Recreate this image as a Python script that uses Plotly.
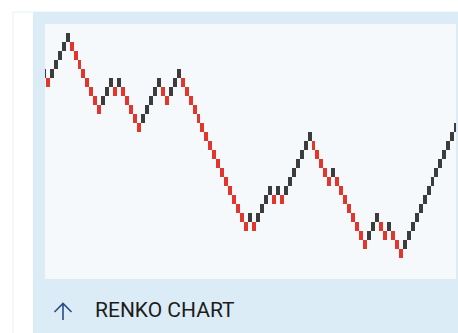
import plotly.graph_objects as go

# Renko bricks (close price of each brick), brick size 10
brick_size = 10
first_open = 1200
brick_close = [
    1210, 1190, 1210, 1220, 1230, 1240, 1250, 1230, 1220, 1210,
    1200, 1190, 1180, 1170, 1160, 1180, 1190, 1200, 1180, 1200,
    1180, 1170, 1160, 1150, 1140, 1160, 1170, 1180, 1190, 1200,
    1180, 1170, 1190, 1200, 1210, 1190, 1180, 1170, 1160, 1150,
    1140, 1130, 1120, 1110, 1100, 1090, 1080, 1070, 1060, 1050,
    1040, 1030, 1050, 1030, 1050, 1060, 1070, 1080, 1060, 1080,
    1060, 1080, 1090, 1100, 1110, 1120, 1130, 1140, 1120, 1110,
    1100, 1090, 1080, 1100, 1080, 1070, 1060, 1050, 1040, 1030,
    1020, 1010, 1030, 1040, 1050, 1030, 1020, 1040, 1020, 1010,
    1000, 1020, 1030, 1040, 1050, 1060, 1070, 1080, 1090, 1100,
    1110, 1120, 1130, 1140, 1150,
]
brick_index = list(range(-1, len(brick_close) - 1))
title_text = "RENKO CHART"

up_color = "#3c3c3c"
down_color = "#e2362c"

prev = [first_open] + brick_close[:-1]
is_up = [c > p for c, p in zip(brick_close, prev)]
lows = [c - brick_size if u else c for c, u in zip(brick_close, is_up)]
colors = [up_color if u else down_color for u in is_up]

fig = go.Figure(
    go.Bar(
        x=brick_index,
        y=[brick_size] * len(brick_close),
        base=lows,
        width=1.0,
        marker=dict(color=colors, line=dict(width=0)),
        hoverinfo="skip",
    )
)

W, H = 458, 333
L, R, T, B = 45, 2, 24, 54
pw, ph = W - L - R, H - T - B


def px(xp):
    return (xp - L) / pw


def py(yp):
    return (H - B - yp) / ph


arrow_path = (
    f"M {px(63)},{py(320)} L {px(63)},{py(303.5)} "
    f"M {px(54.5)},{py(312)} L {px(63)},{py(303.5)} L {px(71.5)},{py(312)}"
)

shapes = [
    # outer faint container
    dict(type="rect", xref="paper", yref="paper", x0=px(13), x1=px(470), y0=py(12), y1=py(345),
         line=dict(color="#e4f0f6", width=1), fillcolor="#ffffff", layer="below"),
    # blue card
    dict(type="rect", xref="paper", yref="paper", x0=px(33), x1=px(470), y0=py(12), y1=py(345),
         line=dict(width=0), fillcolor="#dcecf6", layer="below"),
    # plot area
    dict(type="rect", xref="paper", yref="paper", x0=0, x1=1, y0=0, y1=1,
         line=dict(width=0), fillcolor="#f5f9fb", layer="below"),
    # arrow icon
    dict(type="path", xref="paper", yref="paper", path=arrow_path,
         line=dict(color="#2b4a8a", width=1.6), layer="above"),
]

annotations = [
    dict(text=title_text, xref="paper", yref="paper", x=px(93), y=py(310), xanchor="left", yanchor="middle",
         showarrow=False, font=dict(family="Roboto", size=21, color="#1c1c1c")),
]

fig.update_layout(
    width=W, height=H, autosize=False,
    margin=dict(l=L, r=R, t=T, b=B, pad=0),
    paper_bgcolor="#ffffff",
    plot_bgcolor="rgba(0,0,0,0)",
    showlegend=False,
    bargap=0,
    shapes=shapes,
    annotations=annotations,
    xaxis=dict(range=[-0.7, 102.93], visible=False, fixedrange=True),
    yaxis=dict(range=[976.67, 1260], visible=False, fixedrange=True),
)

fig.write_html(
    "out.html",
    config={"displayModeBar": False, "staticPlot": True},
    post_script="document.body.style.margin='0';document.body.style.overflow='hidden';",
)
